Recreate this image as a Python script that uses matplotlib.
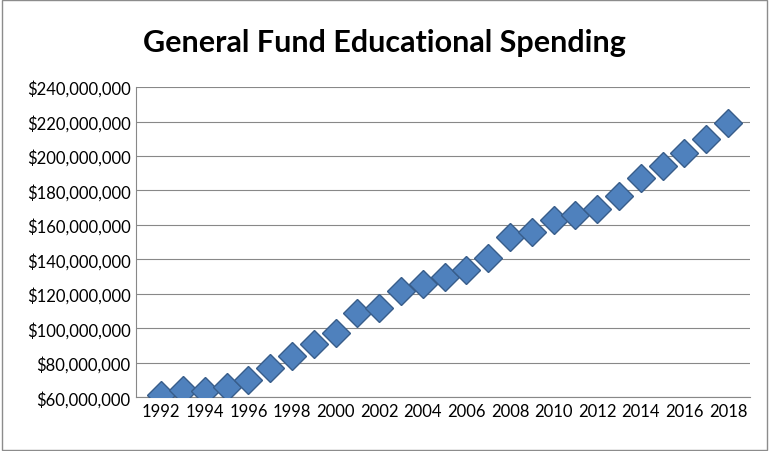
import matplotlib
matplotlib.use("Agg")
import matplotlib.pyplot as plt
from matplotlib.patches import Rectangle

years = list(range(1992, 2019))
spending = [61, 64, 63.5, 66, 70, 77, 84, 91, 97, 109, 112, 121.5, 125.6, 129.7, 134,
            141, 153, 156, 163, 166, 169, 177, 187, 194, 202, 210, 219]
spending = [v * 1e6 for v in spending]
yticks = list(range(60_000_000, 240_000_001, 20_000_000))
xticks = list(range(1992, 2019, 2))

plt.rcParams['font.family'] = ['Lato', 'DejaVu Sans']
fig = plt.figure(figsize=(7.69, 4.52), dpi=100)
fig.patches.append(Rectangle((0.002, 0.002), 0.996, 0.996, transform=fig.transFigure,
                             fill=False, edgecolor="#8c8c8c", linewidth=1))
ax = fig.add_axes([0.177, 0.119, 0.798, 0.686])

ax.plot(years, spending, linestyle="none", marker="D", markersize=14,
        markerfacecolor="#4f81bd", markeredgecolor="#385d8a", markeredgewidth=1, zorder=3)

ax.set_xlim(1990.85, 2019)
ax.set_ylim(60_000_000, 240_000_000)
ax.set_yticks(yticks)
ax.set_yticklabels([f"${v:,}" for v in yticks], fontsize=12)
ax.set_xticks(xticks)
ax.set_xticklabels([str(x) for x in xticks], fontsize=12)
ax.grid(axis="y", color="#888888", linewidth=0.8)
ax.set_axisbelow(True)
for s in ["top", "right"]:
    ax.spines[s].set_visible(False)
for s in ["left", "bottom"]:
    ax.spines[s].set_color("#888888")
ax.tick_params(axis="both", length=0, pad=4)

fig.text(0.5, 0.905, "General Fund Educational Spending", ha="center", va="center",
         fontsize=22, fontweight="bold")

fig.savefig("out.png", dpi=100)
